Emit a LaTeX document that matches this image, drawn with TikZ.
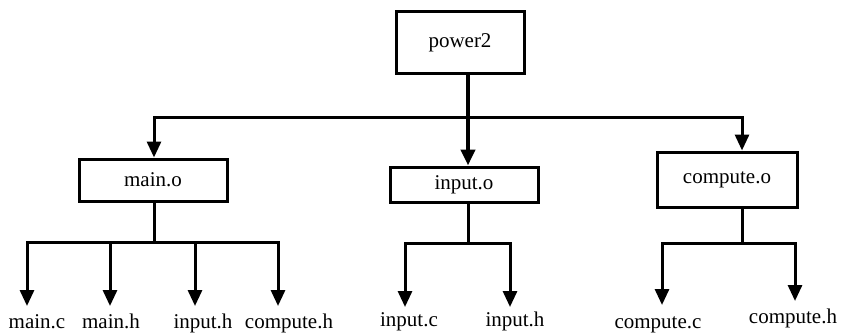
\documentclass[tikz,border=0pt]{standalone}
\usepackage{fontspec}
\setmainfont{Liberation Serif}
\usetikzlibrary{arrows.meta}
\begin{document}
\begin{tikzpicture}[x=1pt,y=-1pt,
  box/.style={draw,line width=3pt,inner sep=0pt,font=\fontsize{21}{24}\selectfont},
  lbl/.style={inner sep=0pt,anchor=base,font=\fontsize{21}{24}\selectfont},
  conn/.style={line width=3pt},
  arr/.style={conn,-{Triangle[width=14pt,length=16pt]}},
  ]
\useasboundingbox (0,0) rectangle (842,334);
% boxes
\node[box,minimum width=128pt,minimum height=62pt] (p) at (460,43) {power2};
\node[box,minimum width=148pt,minimum height=42pt] (mo) at (153,180) {main.o};
\node[box,minimum width=148pt,minimum height=35pt] (io) at (464,184.5) {input.o};
\node[box,minimum width=140pt,minimum height=55pt] (co) at (727,179.5) {compute.o};
% junctions
\coordinate (jt) at (468,117);
\coordinate (jm) at (154,242);
\coordinate (ji) at (468,243);
\coordinate (jc) at (742,243);
% labels
\node[lbl] (l1) at (37,328) {main.c};
\node[lbl] (l2) at (111,328) {main.h};
\node[lbl] (l3) at (203,328) {input.h};
\node[lbl] (l4) at (289,328) {compute.h};
\node[lbl] (l5) at (409,326) {input.c};
\node[lbl] (l6) at (515,326) {input.h};
\node[lbl] (l7) at (658,328) {compute.c};
\node[lbl] (l8) at (793,323) {compute.h};
% arrow tips
\coordinate (t1) at (27,306);
\coordinate (t2) at (110,306);
\coordinate (t3) at (195,306);
\coordinate (t4) at (278,306);
\coordinate (t5) at (405,307);
\coordinate (t6) at (510,307);
\coordinate (t7) at (662,305);
\coordinate (t8) at (795,301);
% top level
\draw[arr,line width=4.5pt] (p.south -| jt) -- (jt) -- (io.north -| jt);
\draw[arr] (jt) -| (mo.north -| jm);
\draw[arr] (jt) -| (co.north -| jc);
% main.o
\draw[conn] (mo.south -| jm) -- (jm);
\draw[arr] (jm) -| (t1);
\draw[arr] (jm) -| (t2);
\draw[arr] (jm) -| (t3);
\draw[arr] (jm) -| (t4);
% input.o
\draw[conn] (io.south -| ji) -- (ji);
\draw[arr] (ji) -| (t5);
\draw[arr] (ji) -| (t6);
% compute.o
\draw[conn] (co.south -| jc) -- (jc);
\draw[arr] (jc) -| (t7);
\draw[arr] (jc) -| (t8);
\end{tikzpicture}
\end{document}
